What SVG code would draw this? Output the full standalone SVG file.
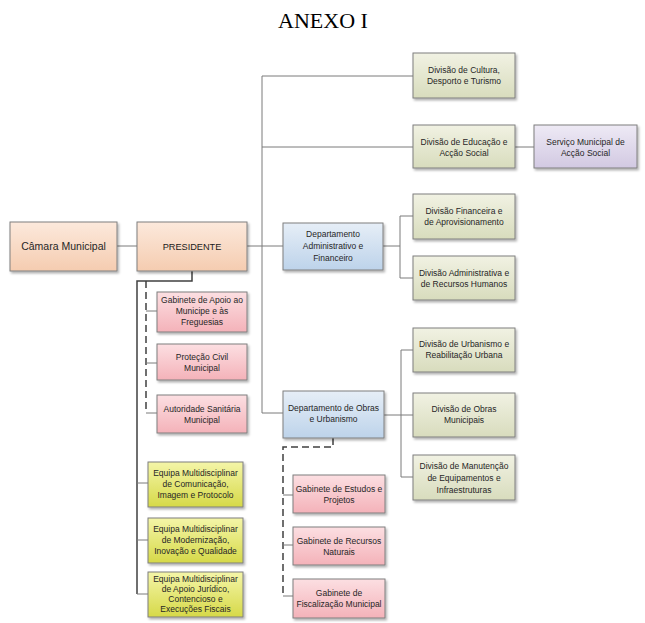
<svg xmlns="http://www.w3.org/2000/svg" width="645" height="623" viewBox="0 0 645 623">
<defs>
<linearGradient id="gPeach" x1="0" y1="0" x2="0" y2="1"><stop offset="0" stop-color="#fce9dc"/><stop offset="1" stop-color="#f5ccb0"/></linearGradient>
<linearGradient id="gPink" x1="0" y1="0" x2="0" y2="1"><stop offset="0" stop-color="#fcdfe2"/><stop offset="1" stop-color="#f4b2b9"/></linearGradient>
<linearGradient id="gOlive" x1="0" y1="0" x2="0" y2="1"><stop offset="0" stop-color="#f1f2e3"/><stop offset="1" stop-color="#d8dcbd"/></linearGradient>
<linearGradient id="gBlue" x1="0" y1="0" x2="0" y2="1"><stop offset="0" stop-color="#e6eef7"/><stop offset="1" stop-color="#bdd3ea"/></linearGradient>
<linearGradient id="gPurple" x1="0" y1="0" x2="0" y2="1"><stop offset="0" stop-color="#eeeaf5"/><stop offset="1" stop-color="#d2c9e2"/></linearGradient>
<linearGradient id="gYellow" x1="0" y1="0" x2="0" y2="1"><stop offset="0" stop-color="#f4f5a8"/><stop offset="1" stop-color="#d6d948"/></linearGradient>
<filter id="sh" x="-10%" y="-10%" width="130%" height="140%"><feDropShadow dx="1.5" dy="2" stdDeviation="1.2" flood-color="#000" flood-opacity="0.3"/></filter>
</defs>
<style>
.box{stroke:#7f7f7f;stroke-width:1;filter:url(#sh)}
.peach{fill:url(#gPeach)}.pink{fill:url(#gPink)}.olive{fill:url(#gOlive)}.blue{fill:url(#gBlue)}.purple{fill:url(#gPurple)}.yellow{fill:url(#gYellow)}
text{font-family:"Liberation Sans",Arial,sans-serif;font-size:8.5px;fill:#262626;text-anchor:middle}
.big{font-size:10.5px}
.pres{font-size:9.2px;fill:#1a1a1a}
.title{font-family:"Liberation Serif","Times New Roman",serif;font-size:22px;fill:#000}
.ln{stroke:#7a7a7a;stroke-width:1;fill:none}
.dk{stroke:#404040;stroke-width:1.5;fill:none}
.ds{stroke:#404040;stroke-width:1.5;fill:none;stroke-dasharray:7 4}
</style>
<text class="title" x="323" y="28">ANEXO I</text>
<g id="connectors">
<path class="ln" d="M117 246H137"/>
<path class="ln" d="M247 246H283"/>
<path class="ln" d="M262 76V413"/>
<path class="ln" d="M262 76H413"/>
<path class="ln" d="M262 147H413"/>
<path class="ln" d="M515 147H534"/>
<path class="ln" d="M262 413H283"/>
<path class="ln" d="M383 246H400M400 216V278M400 216H413M400 278H413"/>
<path class="ln" d="M384 415H413M401 350V477M401 350H413M401 477H413"/>
<path class="dk" d="M192 271V281H137V594"/>
<path class="ln" d="M137 483H148M137 540H148M137 594H148"/>
<path class="ds" d="M146 281V413"/>
<path class="ln" d="M146 311H157M146 363H157M146 413H157"/>
<path class="ds" d="M333 438V447H283V596"/>
<path class="ln" d="M283 495H293M283 545H293M283 596H293"/>
</g>
<g id="camara"><rect class="box peach" x="10" y="222" width="107" height="49"/><text class="big" x="63.5" y="250">Câmara Municipal</text></g>
<g id="presidente"><rect class="box peach" x="137" y="222" width="110" height="49"/><text class="pres" x="192" y="250">PRESIDENTE</text></g>
<g id="cultura"><rect class="box olive" x="413" y="53" width="102" height="45"/><text x="464" y="73">Divisão de Cultura,</text><text x="464" y="84">Desporto e Turismo</text></g>
<g id="educacao"><rect class="box olive" x="413" y="125" width="102" height="43"/><text x="464" y="145">Divisão de Educação e</text><text x="464" y="156">Acção Social</text></g>
<g id="servico"><rect class="box purple" x="534" y="125" width="103" height="43"/><text x="585.5" y="145">Serviço Municipal de</text><text x="585.5" y="156">Acção Social</text></g>
<g id="daf"><rect class="box blue" x="283" y="223" width="100" height="47"/><text x="333" y="237">Departamento</text><text x="333" y="249">Administrativo e</text><text x="333" y="261">Financeiro</text></g>
<g id="financeira"><rect class="box olive" x="413" y="194" width="102" height="45"/><text x="464" y="214">Divisão Financeira e</text><text x="464" y="225">de Aprovisionamento</text></g>
<g id="administrativa"><rect class="box olive" x="413" y="256" width="102" height="44"/><text x="464" y="276">Divisão Administrativa e</text><text x="464" y="287">de Recursos Humanos</text></g>
<g id="dou"><rect class="box blue" x="283" y="391" width="101" height="47"/><text x="333.5" y="411">Departamento de Obras</text><text x="333.5" y="422">e Urbanismo</text></g>
<g id="urbanismo"><rect class="box olive" x="413" y="328" width="102" height="44"/><text x="464" y="347">Divisão de Urbanismo e</text><text x="464" y="358">Reabilitação Urbana</text></g>
<g id="obras"><rect class="box olive" x="413" y="393" width="102" height="44"/><text x="464" y="412">Divisão de Obras</text><text x="464" y="423">Municipais</text></g>
<g id="manutencao"><rect class="box olive" x="413" y="455" width="102" height="45"/><text x="464" y="469">Divisão de Manutenção</text><text x="464" y="481">de Equipamentos e</text><text x="464" y="493">Infraestruturas</text></g>
<g id="gab_apoio"><rect class="box pink" x="157" y="292" width="90" height="40"/><text x="202" y="303">Gabinete de Apoio ao</text><text x="202" y="314">Municipe e às</text><text x="202" y="325">Freguesias</text></g>
<g id="protecao"><rect class="box pink" x="157" y="344" width="90" height="36"/><text x="202" y="360">Proteção Civil</text><text x="202" y="371">Municipal</text></g>
<g id="autoridade"><rect class="box pink" x="157" y="395" width="90" height="38"/><text x="202" y="412">Autoridade Sanitária</text><text x="202" y="423">Municipal</text></g>
<g id="eq_com"><rect class="box yellow" x="148" y="462" width="95" height="45"/><text x="195.5" y="476">Equipa Multidisciplinar</text><text x="195.5" y="487">de Comunicação,</text><text x="195.5" y="498">Imagem e Protocolo</text></g>
<g id="eq_mod"><rect class="box yellow" x="148" y="518" width="95" height="45"/><text x="195.5" y="532">Equipa Multidisciplinar</text><text x="195.5" y="543">de Modernização,</text><text x="195.5" y="554">Inovação e Qualidade</text></g>
<g id="eq_jur"><rect class="box yellow" x="148" y="572" width="95" height="45"/><text x="195.5" y="582">Equipa Multidisciplinar</text><text x="195.5" y="592">de Apoio Jurídico,</text><text x="195.5" y="602">Contencioso e</text><text x="195.5" y="612">Execuções Fiscais</text></g>
<g id="gab_estudos"><rect class="box pink" x="293" y="475" width="92" height="38"/><text x="339" y="492">Gabinete de Estudos e</text><text x="339" y="503">Projetos</text></g>
<g id="gab_recursos"><rect class="box pink" x="293" y="527" width="92" height="38"/><text x="339" y="544">Gabinete de Recursos</text><text x="339" y="555">Naturais</text></g>
<g id="gab_fisc"><rect class="box pink" x="293" y="579" width="92" height="39"/><text x="339" y="596">Gabinete de</text><text x="339" y="607">Fiscalização Municipal</text></g>
</svg>
